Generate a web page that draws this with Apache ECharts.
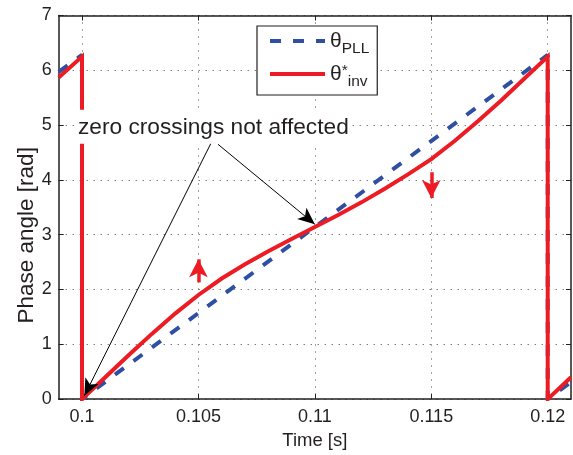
<!DOCTYPE html>
<html><head><meta charset="utf-8">
<script src="https://cdn.jsdelivr.net/npm/echarts@6/dist/echarts.min.js"></script>
<style>html,body{margin:0;padding:0;background:#fff}#c{width:573px;height:455px}</style>
</head><body><div id="c"></div>
<script>
// ---- data ----
const pllTime   = [0.099, 0.1, 0.1, 0.12, 0.12, 0.121];
const pllValues = [5.97, 6.28, 0, 6.28, 0, 0.31];

const invTime = [0.099, 0.1, 0.1, 0.101, 0.102, 0.103, 0.104, 0.105, 0.106, 0.107, 0.108, 0.109,
                 0.110, 0.111, 0.112, 0.113, 0.114, 0.115, 0.116, 0.117, 0.118, 0.119, 0.12, 0.12, 0.121];
const invValues = [5.87, 6.25, 0, 0.40, 0.80, 1.19, 1.56, 1.90, 2.20, 2.46, 2.70, 2.92,
                   3.14, 3.36, 3.59, 3.84, 4.10, 4.38, 4.71, 5.07, 5.45, 5.85, 6.25, 0, 0.40];

const xTicks = [0.1, 0.105, 0.11, 0.115, 0.12];
const yMin = 0, yMax = 7, yStep = 1;
const xMin = 0.099, xMax = 0.121;

const seriesNames = ['PLL', 'inv'];
const annotationText = 'zero crossings not affected';
// annotation arrows: [start, end] in data coordinates
const blackArrows = [
  [[0.10554, 4.67], [0.1001, 0.06]],
  [[0.10584, 4.65], [0.11, 3.19]]
];
// red direction arrows: [tail, head]
const redArrows = [
  [[0.105, 2.13], [0.105, 2.55]],
  [[0.115, 4.14], [0.115, 3.67]]
];
const annotationAnchor = [0.09983, 4.97];

// ---- chart ----
const FONT = '"Liberation Sans", Arial, Helvetica, sans-serif';
const TXT = '#231f20';
const RED = '#ED1C24';
const BLUE = '#2E4FA3';

const zip = (a, b) => a.map((v, i) => [v, b[i]]);

const chart = echarts.init(document.getElementById('c'), null, {renderer: 'canvas'});

const axisCommon = {
  axisLine: {show: true, onZero: false, lineStyle: {color: '#231f20', width: 1.5}},
  axisTick: {show: true, inside: true, length: 5, lineStyle: {color: '#231f20', width: 1}},
};
const gridLine = {show: true, lineStyle: {color: '#444', width: 1, type: [1, 6]}};

chart.setOption({
  animation: false,
  backgroundColor: '#fff',
  textStyle: {fontFamily: FONT},
  grid: {left: 58.7, right: 2, top: 15.5, bottom: 49.5, containLabel: false},
  legend: {
    orient: 'vertical',
    left: 257, top: 26,
    padding: [5, 8, 5, 11],
    itemGap: 6,
    itemWidth: 55, itemHeight: 22,
    backgroundColor: '#fff',
    borderColor: '#231f20', borderWidth: 1.2, borderRadius: 0,
    itemStyle: {opacity: 0},
    lineStyle: {width: 4},
    data: seriesNames,
    formatter: function (name) {
      return name === 'PLL' ? '{th|θ}{sub|PLL}' : '{th|θ}{sup|*}{sub|inv}';
    },
    textStyle: {
      color: TXT, fontFamily: FONT, fontSize: 20,
      rich: {
        th: {fontSize: 21, fontFamily: FONT, color: TXT, verticalAlign: 'top', lineHeight: 20},
        sub: {fontSize: 15.5, fontFamily: FONT, color: TXT, verticalAlign: 'top', lineHeight: 12, padding: [10, 0, 0, 0]},
        sup: {fontSize: 15.5, fontFamily: FONT, color: TXT, verticalAlign: 'top', lineHeight: 12, padding: [-1, 0, 0, 0]}
      }
    }
  },
  xAxis: [{
    type: 'value', position: 'bottom', min: xMin, max: xMax,
    name: 'Time [s]', nameLocation: 'middle', nameGap: 26,
    nameTextStyle: {fontSize: 18.5, color: TXT, fontFamily: FONT},
    ...axisCommon,
    axisTick: {...axisCommon.axisTick, customValues: xTicks},
    axisLabel: {customValues: xTicks, fontSize: 18, color: TXT, margin: 9, fontFamily: FONT,
                formatter: v => String(+v.toFixed(4))},
    splitLine: gridLine
  }, {
    type: 'value', position: 'top', min: xMin, max: xMax,
    ...axisCommon,
    axisTick: {...axisCommon.axisTick, customValues: xTicks},
    axisLabel: {show: false},
    splitLine: {show: false}
  }],
  yAxis: [{
    type: 'value', position: 'left', min: yMin, max: yMax, interval: yStep,
    name: 'Phase angle [rad]', nameLocation: 'middle', nameGap: 20, nameMoveOverlap: false,
    nameTextStyle: {fontSize: 22.5, color: TXT, fontFamily: FONT, padding: [0, 56, 0, 0]},
    ...axisCommon,
    axisLabel: {fontSize: 18, color: TXT, margin: 7, fontFamily: FONT},
    splitLine: gridLine
  }, {
    type: 'value', position: 'right', min: yMin, max: yMax, interval: yStep,
    ...axisCommon,
    axisLabel: {show: false},
    splitLine: {show: false}
  }],
  series: [{
    name: 'PLL', type: 'line', xAxisIndex: 0, yAxisIndex: 0,
    data: zip(pllTime, pllValues),
    showSymbol: false, symbol: 'none',
    lineStyle: {color: BLUE, width: 4, type: [11, 12], cap: 'butt'},
    itemStyle: {color: BLUE},
    z: 2,
    markLine: {
      silent: true, animation: false,
      label: {show: false},
      lineStyle: {color: '#000', width: 1, type: 'solid'},
      data: blackArrows.map(a => [
        {coord: a[0], symbol: 'none'},
        {coord: a[1], symbol: 'arrow', symbolSize: [11, 17]}
      ])
    }
  }, {
    name: 'inv', type: 'line', xAxisIndex: 0, yAxisIndex: 0,
    data: zip(invTime, invValues),
    showSymbol: false, symbol: 'none',
    lineStyle: {color: RED, width: 4, type: 'solid', join: 'miter'},
    itemStyle: {color: RED},
    z: 3,
    markLine: {
      silent: true, animation: false,
      label: {show: false},
      lineStyle: {color: RED, width: 3.5, type: 'solid'},
      data: redArrows.map(a => [
        {coord: a[0], symbol: 'none'},
        {coord: a[1], symbol: 'arrow', symbolSize: [14, 18]}
      ])
    }
  }]
});

const p = chart.convertToPixel({gridIndex: 0}, annotationAnchor);
chart.setOption({
  graphic: [{
    type: 'text', left: p[0] - 3, top: p[1] - 17, z: 100,
    style: {
      text: annotationText, fill: TXT, font: '22.7px ' + FONT,
      backgroundColor: '#fff', padding: [6, 3, 5, 3]
    }
  }]
});
</script></body></html>
